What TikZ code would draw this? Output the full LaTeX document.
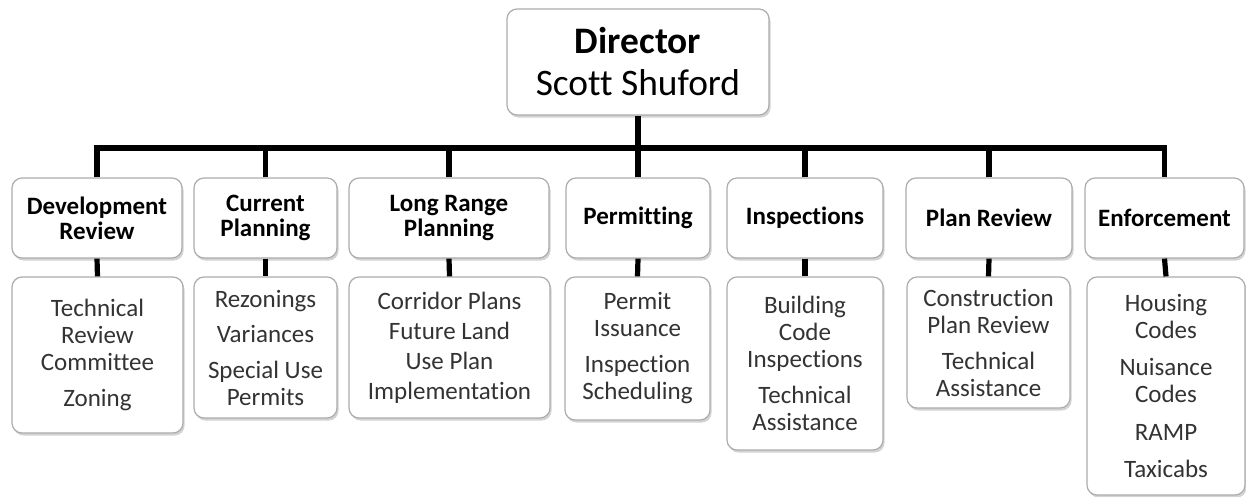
\documentclass[tikz,border=0pt]{standalone}
\usepackage{fontspec}
\setmainfont{Carlito}[Ligatures=NoCommon]
\usetikzlibrary{shadows}

\tikzset{
    box/.style={draw=gray!65, line width=0.6pt, rounded corners=5pt, fill=white, align=center, inner sep=2pt,
        drop shadow={shadow xshift=0.8pt, shadow yshift=-1.3pt, opacity=0.35, fill=gray}},
    head/.style={box, minimum height=40pt, font=\fontsize{12.5}{12.5}\selectfont\bfseries},
    duty/.style={box, font=\fontsize{12.5}{13.5}\selectfont, text=black!80},
    link/.style={line width=2.6pt}
}

\begin{document}
\begin{tikzpicture}[x=0.5pt, y=-0.5pt, >=stealth, semithick]
                \useasboundingbox (0,0) rectangle (1246,497);
                \node[box, minimum width=131pt, minimum height=53pt, font=\fontsize{18.7}{21}\selectfont] (dir) at (638,62) {\textbf{Director}\\Scott Shuford};
                \node[head, minimum width=85pt] (dev) at (97,218) {Development\\Review};
                \node[head, minimum width=71.5pt] (cur) at (265.5,218) {Current\\Planning};
                \node[head, minimum width=100pt] (lrp) at (449,218) {Long Range\\Planning};
                \node[head, minimum width=72pt] (per) at (638,218) {Permitting};
                \node[head, minimum width=78pt] (ins) at (805,218) {Inspections};
                \node[head, minimum width=83pt] (plr) at (989,218) {Plan Review};
                \node[head, minimum width=79.5pt] (enf) at (1164.5,218) {Enforcement};
                \node[duty, minimum width=85.5pt, minimum height=78pt] (devB) at (97.5,355) {Technical\\Review\\Committee\\[4.5pt]Zoning};
                \node[duty, minimum width=71.5pt, minimum height=70.5pt] (curB) at (265.5,347.5) {Rezonings\\[4pt]Variances\\[4.5pt]Special Use\\Permits};
                \node[duty, minimum width=100.5pt, minimum height=70.5pt] (lrpB) at (449.5,347.5) {Corridor Plans\\[1.5pt]Future Land\\[1.5pt]Use Plan\\[1.5pt]Implementation};
                \node[duty, minimum width=72.5pt, minimum height=71.5pt] (perB) at (637.5,348.5) {Permit\\Issuance\\[4.5pt]Inspection\\Scheduling};
                \node[duty, minimum width=78pt, minimum height=86.5pt] (insB) at (805,363.5) {Building\\Code\\Inspections\\[4.5pt]Technical\\Assistance};
                \node[duty, minimum width=81.5pt, minimum height=65.5pt] (plrB) at (988.5,342.5) {Construction\\Plan Review\\[4.5pt]Technical\\Assistance};
                \node[duty, minimum width=79pt, minimum height=109pt] (enfB) at (1166,386) {Housing\\Codes\\[5pt]Nuisance\\Codes\\[5.5pt]RAMP\\[5pt]Taxicabs};
                \coordinate (bus) at (0,148);
                \draw[link] (dir.south) -- (dir.south |- bus);
                \draw[link] (dev.north) -- (dev.north |- bus) -- (enf.north |- bus) -- (enf.north);
                \foreach \n in {cur, lrp, per, ins, plr}
                    \draw[link] (\n.north) -- (\n.north |- bus);
                \foreach \n in {dev, cur, lrp, per, ins, plr, enf}
                    \draw[link] (\n.south) -- (\n B.north);
            \end{tikzpicture}
\end{document}
